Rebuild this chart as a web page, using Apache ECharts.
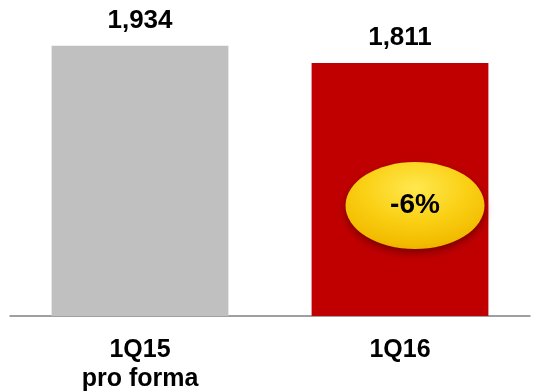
<!DOCTYPE html>
<html>
<head>
<meta charset="utf-8">
<script src="https://cdn.jsdelivr.net/npm/echarts@6/dist/echarts.min.js"></script>
<style>
html,body{margin:0;padding:0;background:#fff;}
#main{width:541px;height:392px;}
</style>
</head>
<body>
<div id="main"></div>
<script>
var categories = ['1Q15\npro forma', '1Q16'];
var values = [1934, 1811];
var barColors = ['#C0C0C0', '#C00000'];
var changeLabel = '-6%';
var changeAnchorValue = 790;

var chart = echarts.init(document.getElementById('main'), null, {renderer: 'canvas'});
var font = '"Liberation Sans", Arial, sans-serif';

chart.setOption({
  animation: false,
  grid: {left: 10, right: 11, top: 36.5, bottom: 76, containLabel: false, outerBoundsMode: 'none'},
  xAxis: {
    type: 'category',
    data: categories,
    axisLine: {show: true, lineStyle: {color: '#808080', width: 1.5}},
    axisTick: {show: false},
    axisLabel: {
      color: '#000', fontFamily: font, fontWeight: 'bold', fontSize: 25,
      lineHeight: 29, margin: 20, interval: 0
    }
  },
  yAxis: {
    type: 'value', min: 0, max: 2000,
    show: false, splitLine: {show: false}
  },
  series: [{
    type: 'bar',
    barCategoryGap: '32%',
    data: values.map(function (v, i) {
      return {value: v, itemStyle: {color: barColors[i]}};
    }),
    label: {
      show: true, position: 'top', distance: 12,
      color: '#000', fontFamily: font, fontWeight: 'bold', fontSize: 26,
      formatter: function (p) { return p.value.toLocaleString('en-US'); }
    }
  }]
});

var pt;
try {
  pt = chart.convertToPixel({seriesIndex: 0}, [1, changeAnchorValue]);
} catch (e) { pt = null; }
if (!pt || isNaN(pt[0])) {
  var x = chart.getModel().getComponent('xAxis', 0).axis;
  var y = chart.getModel().getComponent('yAxis', 0).axis;
  pt = [x.toGlobalCoord(x.dataToCoord(1)), y.toGlobalCoord(y.dataToCoord(changeAnchorValue))];
}
var rx = 69.5, ry = 43.5;
chart.setOption({
  graphic: {
    elements: [{
      type: 'circle',
      x: pt[0] + 15, y: pt[1],
      scaleY: ry / rx,
      shape: {cx: 0, cy: 0, r: rx},
      style: {
        fill: {
          type: 'radial', x: 0.5, y: 0.3, r: 0.75,
          colorStops: [
            {offset: 0, color: '#FFE84F'},
            {offset: 0.5, color: '#FAD015'},
            {offset: 0.85, color: '#F2BC00'},
            {offset: 1, color: '#E6AC00'}
          ]
        },
        shadowBlur: 8, shadowColor: 'rgba(80,0,0,0.6)', shadowOffsetY: 4
      },
      z: 100
    }, {
      type: 'text',
      x: pt[0] + 15, y: pt[1],
      style: {
        text: changeLabel, fill: '#000', font: 'bold 28px ' + font,
        align: 'center', verticalAlign: 'middle'
      },
      z: 101
    }]
  }
});
</script>
</body>
</html>
